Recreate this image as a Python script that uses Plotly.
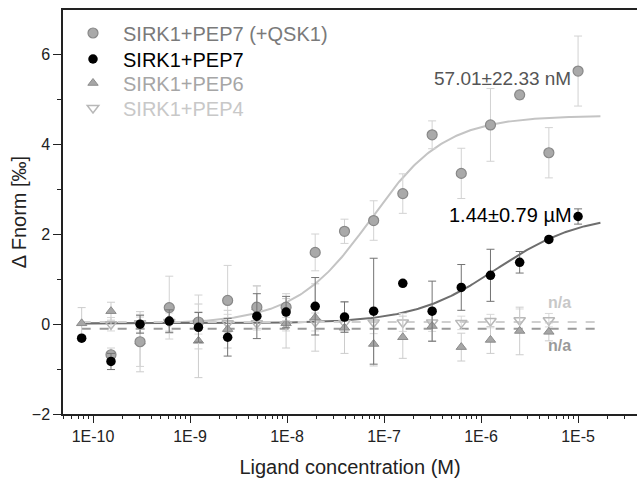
import numpy as np
import plotly.graph_objects as go

# ---------------- data ----------------
conc = [7.63e-11, 1.53e-10, 3.05e-10, 6.10e-10, 1.22e-9, 2.44e-9, 4.88e-9, 9.77e-9,
        1.95e-8, 3.91e-8, 7.81e-8, 1.56e-7, 3.13e-7, 6.25e-7, 1.25e-6, 2.50e-6,
        5.00e-6, 1.00e-5]

qsk_conc = conc[1:]
qsk_vals = [-0.68, -0.39, 0.37, 0.05, 0.53, 0.38, 0.38, 1.60, 2.07, 2.31, 2.91,
            4.22, 3.36, 4.44, 5.11, 3.82, 5.64]
qsk_err = [0.15, 0.55, 0.70, 0.60, 0.78, 0.48, 0.30, 0.41, 0.27, 0.44, 0.44,
           0.31, 0.56, 0.81, 0.10, 0.56, 0.78]

pep7_conc = conc
pep7_vals = [-0.31, -0.83, 0.00, 0.07, -0.07, -0.29, 0.18, 0.27, 0.40, 0.16, 0.29,
             0.91, 0.29, 0.82, 1.09, 1.38, 1.89, 2.40]
pep7_err = [0.05, 0.18, 0.20, 0.25, 0.33, 0.42, 0.50, 0.35, 0.64, 0.34, 1.18,
            0.05, 0.67, 0.51, 0.58, 0.24, 0.05, 0.17]

pep6_conc = conc[:17]
pep6_vals = [0.02, 0.29, -0.39, 0.10, -0.37, -0.11, 0.38, 0.02, 0.15, -0.08, -0.44,
             -0.29, -0.04, -0.51, -0.35, -0.15, -0.17]
pep6_err = [0.35, 0.20, 0.67, 0.30, 0.82, 0.42, 0.47, 0.55, 0.75, 0.57, 0.49,
            0.47, 0.33, 0.31, 0.30, 0.53, 0.20]

pep4_conc = conc[1:17]
pep4_vals = [0.00, 0.02, 0.05, 0.03, 0.02, 0.02, 0.00, 0.05, 0.03, 0.04, 0.04,
             0.04, 0.03, 0.07, 0.09, 0.09]
pep4_err = [0.15, 0.20, 0.20, 0.25, 0.20, 0.15, 0.15, 0.20, 0.20, 0.25, 0.20,
            0.20, 0.15, 0.15, 0.25, 0.15]

# fit parameters (MST Kd model)
qsk_kd, qsk_bottom, qsk_top = 57.01e-9, 0.0, 4.65
pep7_kd, pep7_bottom, pep7_top = 1.44e-6, 0.02, 2.45
target_conc = 30e-9
pep6_level = -0.10
pep4_level = 0.05
fit_min, fit_max = 7.63e-11, 1.7e-5

tickvals = [1e-10, 1e-9, 1e-8, 1e-7, 1e-6, 1e-5]
ticktext = ["1E-10", "1E-9", "1E-8", "1E-7", "1E-6", "1E-5"]
minor_tickvals = [d * 10.0 ** e for e in range(-11, -5) for d in range(2, 10)] + [2e-5, 3e-5]


def kd_model(c, kd, bottom, top, t=target_conc):
    s = c + t + kd
    fb = (s - np.sqrt(s * s - 4 * c * t)) / (2 * t)
    return bottom + (top - bottom) * fb


xf = np.logspace(np.log10(fit_min), np.log10(fit_max), 300)

fig = go.Figure()

# fit lines
fig.add_trace(go.Scatter(x=xf, y=kd_model(xf, qsk_kd, qsk_bottom, qsk_top), mode="lines",
                         line=dict(color="#c4c4c4", width=2), showlegend=False, hoverinfo="skip"))
fig.add_trace(go.Scatter(x=xf, y=kd_model(xf, pep7_kd, pep7_bottom, pep7_top), mode="lines",
                         line=dict(color="#6e6e6e", width=2), showlegend=False, hoverinfo="skip"))
fig.add_trace(go.Scatter(x=[fit_min, fit_max], y=[pep4_level, pep4_level], mode="lines",
                         line=dict(color="#cfcfcf", width=2, dash="dash"), showlegend=False, hoverinfo="skip"))
fig.add_trace(go.Scatter(x=[fit_min, fit_max], y=[pep6_level, pep6_level], mode="lines",
                         line=dict(color="#9a9a9a", width=2, dash="dash"), showlegend=False, hoverinfo="skip"))

# data points
fig.add_trace(go.Scatter(
    x=pep4_conc, y=pep4_vals, mode="markers", legend="legend4",
    name="<span style='color:#c8c8c8'>SIRK1+PEP4</span>",
    marker=dict(symbol="triangle-down-open", size=10, color="#b8b8b8", line=dict(width=1.5)),
    error_y=dict(type="data", array=pep4_err, color="#d8d8d8", thickness=1, width=4)))
fig.add_trace(go.Scatter(
    x=pep6_conc, y=pep6_vals, mode="markers", legend="legend3",
    name="<span style='color:#a6a6a6'>SIRK1+PEP6</span>",
    marker=dict(symbol="triangle-up", size=9, color="#a6a6a6", line=dict(color="#8c8c8c", width=1)),
    error_y=dict(type="data", array=pep6_err, color="#cccccc", thickness=1, width=4)))
fig.add_trace(go.Scatter(
    x=qsk_conc, y=qsk_vals, mode="markers", legend="legend",
    name="<span style='color:#7a7a7a'>SIRK1+PEP7 (+QSK1)</span>",
    marker=dict(symbol="circle", size=10, color="#a9a9a9", line=dict(color="#888888", width=1.2)),
    error_y=dict(type="data", array=qsk_err, color="#d2d2d2", thickness=1, width=4)))
fig.add_trace(go.Scatter(
    x=pep7_conc, y=pep7_vals, mode="markers", legend="legend2",
    name="<span style='color:#000000'>SIRK1+PEP7</span>",
    marker=dict(symbol="circle", size=9.5, color="#000000"),
    error_y=dict(type="data", array=pep7_err, color="#737373", thickness=1, width=4)))


def leg(ypix):
    return dict(x=0, y=(414 - ypix) / 404.0, xanchor="left", yanchor="middle",
                font=dict(size=20), bgcolor="rgba(0,0,0,0)", itemwidth=50)


fig_w = 637
plot_w = fig_w - 63

fig.update_layout(
    width=fig_w, height=478,
    margin=dict(l=63, r=0, t=10, b=64),
    paper_bgcolor="white", plot_bgcolor="white",
    font=dict(family="Liberation Sans, Arial, sans-serif", size=16, color="#222222"),
    legend=leg(33), legend2=leg(59), legend3=leg(83), legend4=leg(108),
    xaxis=dict(type="log", range=[-10.31, -10.31 + plot_w / 97.0],
               tickvals=tickvals, ticktext=ticktext, ticks="outside", ticklen=7,
               tickcolor="#222", showline=True, linecolor="#222", linewidth=1.5, mirror=True,
               showgrid=False, zeroline=False, automargin=False,
               tickfont=dict(size=16),
               minor=dict(ticks="outside", ticklen=3.5, tickcolor="#222",
                          tickvals=minor_tickvals, showgrid=False),
               title=dict(text="Ligand concentration (M)", font=dict(size=20), standoff=16)),
    yaxis=dict(range=[-2, 7], tickvals=[-2, 0, 2, 4, 6], ticks="outside", ticklen=8,
               tickcolor="#222", showline=True, linecolor="#222", linewidth=1.5,
               showgrid=False, zeroline=False, automargin=False,
               tickfont=dict(size=16),
               minor=dict(ticks="outside", ticklen=4, tickcolor="#222", tickvals=[-1, 1, 3, 5]),
               title=dict(text="Δ Fnorm [‰]", font=dict(size=20), standoff=0)),
    annotations=[
        dict(x=np.log10(1.65e-6), y=5.47, text="57.01±22.33 nM", showarrow=False,
             font=dict(size=19, color="#555555")),
        dict(x=np.log10(2.0e-6), y=2.44, text="1.44±0.79 µM", showarrow=False,
             font=dict(size=20, color="#000000")),
        dict(x=np.log10(6.4e-6), y=0.49, text="<b>n/a</b>", showarrow=False,
             font=dict(size=16, color="#c8c8c8")),
        dict(x=np.log10(6.4e-6), y=-0.47, text="<b>n/a</b>", showarrow=False,
             font=dict(size=16, color="#9a9a9a")),
    ],
)

fig.write_html(
    "out.html", config={"displayModeBar": False},
    post_script=("document.body.style.margin='0px';"
                 "document.body.style.overflow='hidden';"
                 "document.documentElement.style.overflow='hidden';"))
